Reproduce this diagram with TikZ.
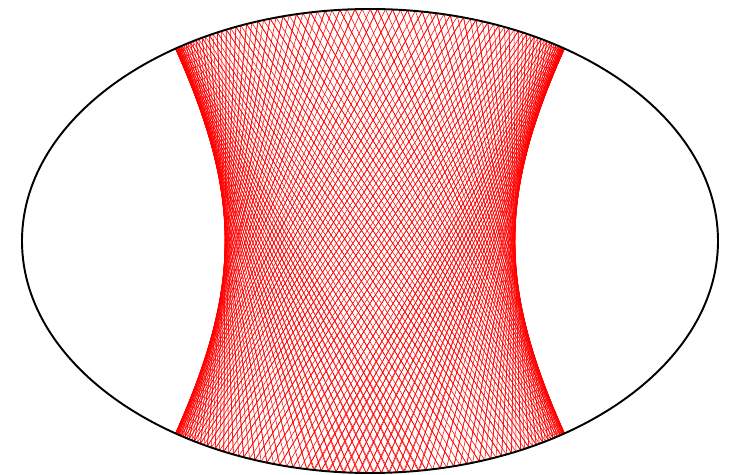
\documentclass[tikz,border=0pt]{standalone}
\usepackage{xfp}
\begin{document}
\begin{tikzpicture}
  \tikzstyle{rim}=[draw=black,line width=1.1pt]
  \tikzstyle{ray}=[draw=red,line width=0.3pt]
  \useasboundingbox (-7.4,-4.68) rectangle (7.4,4.82);
  % semi axes of the table and of the confocal hyperbola
  \def\ea{6.96}\def\eb{4.64}\def\ha{2.90}
  \xdef\hb{\fpeval{(\ea)^2-(\eb)^2-(\ha)^2}}
  \xdef\mm{\fpeval{sqrt(((\eb)^2+\hb)/(\ha)^2)}}
  % start at the top, tangent to the caustic
  \xdef\px{0}\xdef\py{\eb}
  \xdef\dx{\fpeval{1/sqrt(1+(\mm)^2)}}
  \xdef\dy{\fpeval{-(\mm)/sqrt(1+(\mm)^2)}}
  \coordinate (p0) at (\px,\py);
  \foreach \k in {1,...,280}{
    \pgfmathtruncatemacro\j{\k-1}
    \xdef\bt{\fpeval{-2*((\px)*(\dx)/(\ea)^2+(\py)*(\dy)/(\eb)^2)/((\dx)^2/(\ea)^2+(\dy)^2/(\eb)^2)}}
    \xdef\px{\fpeval{(\px)+(\bt)*(\dx)}}
    \xdef\py{\fpeval{(\py)+(\bt)*(\dy)}}
    \xdef\nx{\fpeval{(\px)/(\ea)^2}}
    \xdef\ny{\fpeval{(\py)/(\eb)^2}}
    \xdef\dn{\fpeval{2*((\dx)*(\nx)+(\dy)*(\ny))/((\nx)^2+(\ny)^2)}}
    \xdef\dx{\fpeval{(\dx)-(\dn)*(\nx)}}
    \xdef\dy{\fpeval{(\dy)-(\dn)*(\ny)}}
    \coordinate (p\k) at ({\fpeval{round(\px,5)}},{\fpeval{round(\py,5)}});
    \draw[ray] (p\j) -- (p\k);
  }
  \draw[rim] (0,0) ellipse [x radius=\ea cm,y radius=\eb cm];
\end{tikzpicture}
\end{document}
